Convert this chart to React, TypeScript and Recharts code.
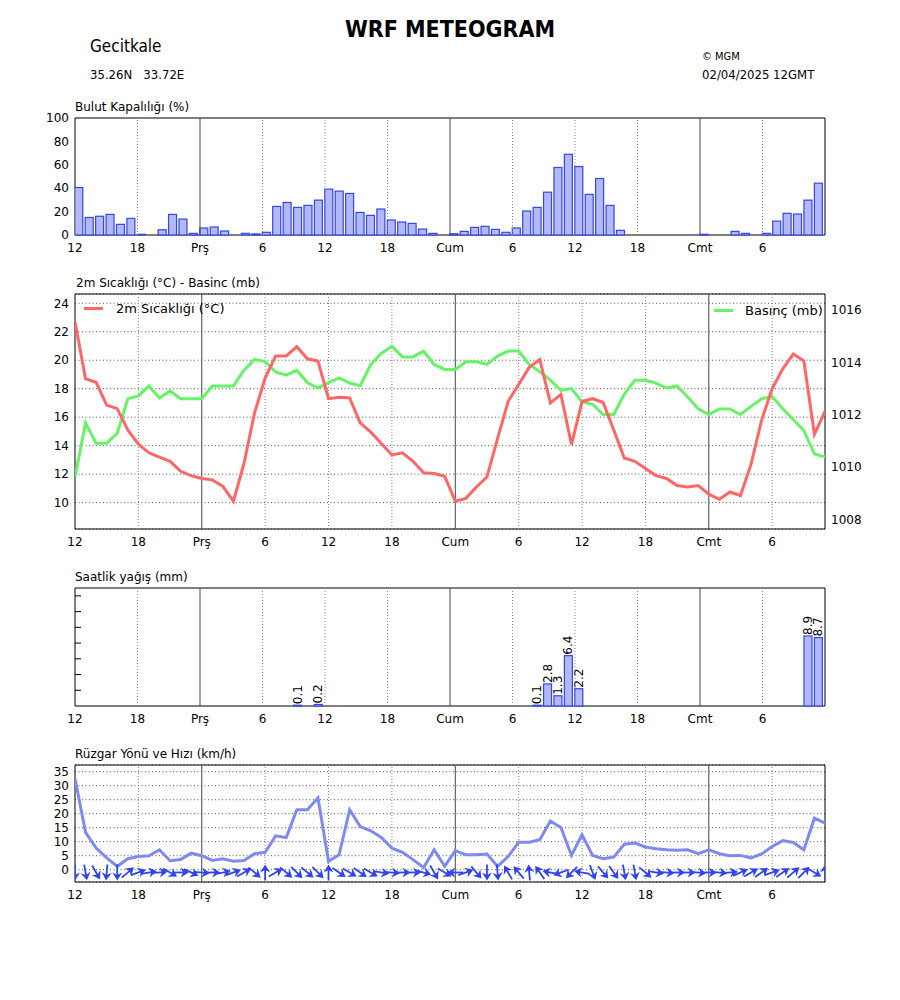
import React from "react";
import {
  ComposedChart,
  Bar,
  Line,
  Scatter,
  XAxis,
  YAxis,
  CartesianGrid,
  ReferenceLine,
  ReferenceArea,
} from "recharts";

const FONT = "'DejaVu Sans', sans-serif";
const FONT_COND = "'DejaVu Sans Condensed', 'DejaVu Sans', sans-serif";

// x axis: hours from 02/04 12GMT
const tickHours = [0, 6, 12, 18, 24, 30, 36, 42, 48, 54, 60, 66];
const tickLabels = ["12", "18", "Prş", "6", "12", "18", "Cum", "6", "12", "18", "Cmt", "6"];
const dayHours = [12, 36, 60];

// Bulut kapalılığı (%)
const cloud = [
  40.6, 15, 16, 17.6, 9.1, 14.2, 0.6, 0, 4.5, 17.6,
  13.6, 1.4, 6, 6.8, 3.4, 0, 1.4, 0.9, 2.3, 24.4,
  27.8, 23.6, 25.3, 29.8, 39.2, 37.5, 35.5, 19.3, 16.8, 22.2,
  12.8, 11.1, 9.9, 5.1, 1.4, 0, 1.1, 3.1, 6.5, 7.4,
  4.8, 2.3, 6, 20.5, 23.6, 36.6, 57.7, 69, 58.5, 34.7,
  48.3, 25.3, 4, 0, 0, 0, 0, 0, 0, 0,
  0.6, 0, 0, 3.1, 1.4, 0, 1.4, 11.9, 18.5, 17.9,
  29.8, 44.3,
];

// 2m sıcaklığı (°C)
const temp = [
  22.7, 18.7, 18.45, 16.85, 16.6, 15.1, 14.1, 13.5, 13.2, 12.9,
  12.2, 11.9, 11.7, 11.6, 11.15, 10.1, 12.75, 16.3, 18.75, 20.3,
  20.3, 20.95, 20.1, 19.95, 17.3, 17.4, 17.35, 15.6, 14.95, 14.15,
  13.35, 13.5, 12.9, 12.1, 12.05, 11.85, 10.1, 10.3, 11.1, 11.8,
  14.5, 17.1, 18.3, 19.5, 20.05, 17.0, 17.6, 14.08, 17.1, 17.3,
  17.03, 15.1, 13.14, 12.9, 12.4, 11.9, 11.7, 11.2, 11.1, 11.2,
  10.6, 10.24, 10.75, 10.5, 12.7, 15.8, 18.0, 19.4, 20.43, 19.96,
  14.8, 16.4,
];

// Basınç (mb)
const pressure = [
  1009.61, 1011.69, 1010.91, 1010.91, 1011.3, 1012.61, 1012.72, 1013.1, 1012.64, 1012.91,
  1012.61, 1012.61, 1012.61, 1013.1, 1013.1, 1013.1, 1013.7, 1014.11, 1014.03, 1013.64,
  1013.51, 1013.7, 1013.23, 1013.02, 1013.23, 1013.41, 1013.21, 1013.11, 1013.92, 1014.34,
  1014.62, 1014.21, 1014.21, 1014.43, 1013.92, 1013.73, 1013.73, 1014.02, 1014.02, 1013.92,
  1014.24, 1014.43, 1014.43, 1013.92, 1013.64, 1013.32, 1012.93, 1013.0, 1012.49, 1012.4,
  1012.01, 1012.01, 1012.78, 1013.32, 1013.32, 1013.21, 1013.02, 1013.1, 1012.68, 1012.23,
  1012.01, 1012.22, 1012.22, 1012.01, 1012.32, 1012.61, 1012.7, 1012.23, 1011.82, 1011.4,
  1010.5, 1010.4,
];

// Saatlik yağış (mm)
const rain = [
  0, 0, 0, 0, 0, 0, 0, 0, 0, 0,
  0, 0, 0, 0, 0, 0, 0, 0, 0, 0,
  0, 0.1, 0, 0.2, 0, 0, 0, 0, 0, 0,
  0, 0, 0, 0, 0, 0, 0, 0, 0, 0,
  0, 0, 0, 0, 0.1, 2.8, 1.3, 6.4, 2.2, 0,
  0, 0, 0, 0, 0, 0, 0, 0, 0, 0,
  0, 0, 0, 0, 0, 0, 0, 0, 0, 0,
  8.9, 8.7,
];

// Rüzgar hızı (km/h)
const windSpeed = [
  32.6, 13.3, 7.7, 4.2, 1.2, 3.9, 4.7, 5.0, 7.1, 3.2,
  3.6, 5.9, 5.0, 3.3, 3.9, 3.0, 3.3, 5.7, 6.2, 12.1,
  11.5, 21.4, 21.4, 25.7, 3.0, 5.3, 21.4, 15.4, 13.9, 11.5,
  7.7, 6.2, 3.6, 0.8, 7.1, 1.2, 6.8, 5.3, 5.3, 5.6,
  1.2, 4.7, 9.8, 9.8, 10.7, 17.4, 15.1, 5.1, 12.5, 5.1,
  3.9, 4.5, 9.1, 9.5, 8.1, 7.5, 7.1, 6.9, 7.1, 5.7,
  7.1, 5.7, 5.0, 5.1, 4.2, 5.6, 8.3, 10.4, 9.7, 7.1,
  18.4, 16.6,
];

// arrow direction, degrees counter-clockwise from east (where the wind blows to)
const windDir = [
  -90, -80, -60, -95, -90, 40, 20, 10, 5, -30,
  0, -25, -5, 0, 10, 20, 30, -40, 90, 30,
  -40, -45, -40, -45, 90, -35, -30, -35, -30, -10,
  -5, 0, 0, -15, -60, -30, 180, 20, -50, -90,
  -85, 120, 130, 95, 125, 170, 200, 225, 170, -70,
  -50, -55, -80, -80, -40, -10, -5, 0, 0, -5,
  0, -5, 5, 25, 30, 35, 20, 35, 40, 45,
  -30, 90,
];

const cloudData = cloud.map((v, i) => ({ h: i, v }));
const rainData = rain.map((v, i) => ({ h: i, v }));
const tpData = temp.map((t, i) => ({ h: i, t, p: pressure[i] }));
const windData = windSpeed.map((s, i) => ({ h: i, s }));
const arrowData = windDir.map((d, i) => ({ h: i, y: -1, d }));

const BAR_FILL = "#b3b9f6";
const BAR_EDGE = "#3445ea";
const tickStyle = { fontSize: 12, fill: "#000", fontFamily: FONT };
const TOP = 10; // room above each plot for the top tick label

const fmtHour = (v: number) => tickLabels[tickHours.indexOf(v)] ?? "";

// matplotlib style bars: left edge on the hour
const EdgeBar = (props: any) => {
  const { x, y, width, height } = props;
  if (!height || height <= 0) return null;
  return (
    <rect x={x + width / 2} y={y} width={width} height={height}
      fill={BAR_FILL} stroke={BAR_EDGE} strokeWidth={1.2} />
  );
};

const RainBar = (props: any) => {
  const { x, y, width, height } = props;
  const v = props.payload?.v ?? props.value;
  if (!v || v <= 0) return null;
  const cx = x + width;
  const ty = y - 1;
  return (
    <g>
      <rect x={x + width / 2} y={y} width={width} height={Math.max(height, 0.5)}
        fill={BAR_FILL} stroke={BAR_EDGE} strokeWidth={1.2} />
      <text x={cx} y={ty} transform={`rotate(-90 ${cx} ${ty})`} textAnchor="start"
        dominantBaseline="central" fontSize={12} fontFamily={FONT} fill="#000">
        {v.toFixed(1)}
      </text>
    </g>
  );
};

const Arrow = (props: any) => {
  const { cx, cy, payload } = props;
  if (cx == null || cy == null) return null;
  const L = 16;
  const c = "#2f43ee";
  return (
    <g transform={`translate(${cx},${cy}) rotate(${-payload.d})`}>
      <line x1={-L / 2} y1={0} x2={L / 2 - 4} y2={0} stroke={c} strokeWidth={1.8} />
      <path d={`M ${L / 2} 0 L ${L / 2 - 8} -5 L ${L / 2 - 5.5} 0 L ${L / 2 - 8} 5 Z`} fill={c} />
    </g>
  );
};

const vLines = (yId?: string) =>
  tickHours.filter((h) => h > 0).map((h) =>
    dayHours.includes(h) ? (
      <ReferenceLine key={h} x={h} yAxisId={yId} stroke="#444" strokeWidth={1} />
    ) : (
      <ReferenceLine key={h} x={h} yAxisId={yId} stroke="#888" strokeWidth={1} strokeDasharray="1 2" />
    )
  );

const xAxis = (max: number) => (
  <XAxis dataKey="h" type="number" domain={[0, max]} ticks={tickHours} interval={0}
    allowDataOverflow tickFormatter={fmtHour} tick={tickStyle} tickLine={false}
    axisLine={false} height={30} tickSize={4} tickMargin={4} />
);

const Title = ({ top, left = 75, children }: { top: number; left?: number; children: React.ReactNode }) => (
  <div style={{ position: "absolute", left, top: top - 7, fontSize: 12, lineHeight: "14px", fontFamily: FONT, whiteSpace: "pre" }}>
    {children}
  </div>
);

export default function App() {
  const tDom: [number, number] = [8.15, 24.65];
  const pDom: [number, number] = [1007.64, 1016.61];
  const wDom: [number, number] = [-4.4, 37.4];
  return (
    <div style={{ position: "absolute", left: 0, top: 0, width: 900, height: 1000, background: "#fff", fontFamily: FONT, color: "#000" }}>
      {/* header */}
      <div style={{ position: "absolute", left: 0, width: 900, top: 16, textAlign: "center", fontSize: 23, lineHeight: "26px", fontWeight: "bold", fontFamily: FONT_COND }}>
        WRF METEOGRAM
      </div>
      <div style={{ position: "absolute", left: 90, top: 36, fontSize: 17, lineHeight: "20px", fontFamily: FONT_COND }}>Gecitkale</div>
      <div style={{ position: "absolute", left: 90, top: 67, fontSize: 13, lineHeight: "15px", fontFamily: FONT_COND, whiteSpace: "pre" }}>35.26N   33.72E</div>
      <div style={{ position: "absolute", left: 702, top: 50, fontSize: 11, lineHeight: "14px", fontFamily: FONT_COND }}>© MGM</div>
      <div style={{ position: "absolute", left: 702, top: 67, fontSize: 13, lineHeight: "15px", fontFamily: FONT_COND }}>02/04/2025 12GMT</div>

      {/* panel 1: cloud cover */}
      <Title top={107}>Bulut Kapalılığı (%)</Title>
      <div style={{ position: "absolute", left: 0, top: 118 - TOP }}>
        <ComposedChart width={900} height={147 + TOP} data={cloudData} margin={{ top: TOP, right: 75, bottom: 0, left: 0 }}>
          {xAxis(72)}
          <YAxis type="number" domain={[0, 100]} ticks={[0, 20, 40, 60, 80, 100]} interval={0} width={75}
            tick={tickStyle} tickLine={false} axisLine={false} tickSize={6} tickMargin={0} />
          {vLines()}
          <Bar dataKey="v" barSize={8} shape={EdgeBar} isAnimationActive={false} />
          <ReferenceArea x1={0} x2={72} y1={0} y2={100} fill="none" stroke="#000" strokeWidth={1} ifOverflow="visible" />
        </ComposedChart>
      </div>

      {/* panel 2: temperature / pressure */}
      <Title top={283} left={76}>2m Sıcaklığı (°C) - Basinc (mb)</Title>
      <div style={{ position: "absolute", left: 0, top: 294 - TOP }}>
        <ComposedChart width={900} height={265 + TOP} data={tpData} margin={{ top: TOP, right: 0, bottom: 0, left: 0 }}>
          {xAxis(71)}
          <YAxis yAxisId="t" type="number" domain={tDom} allowDataOverflow ticks={[10, 12, 14, 16, 18, 20, 22, 24]}
            interval={0} width={75} tick={tickStyle} tickLine={false} axisLine={false} tickSize={6} tickMargin={0} />
          <YAxis yAxisId="p" orientation="right" type="number" domain={pDom} allowDataOverflow
            ticks={[1008, 1010, 1012, 1014, 1016]} interval={0} width={75} tick={tickStyle} tickLine={false}
            axisLine={false} tickSize={6} tickMargin={0} />
          <CartesianGrid yAxisId="t" vertical={false} stroke="#555" strokeDasharray="1 2.5" />
          {vLines("t")}
          <Line yAxisId="p" dataKey="p" stroke="#66f466" strokeWidth={3} dot={false} isAnimationActive={false} />
          <Line yAxisId="t" dataKey="t" stroke="#ff6666" strokeWidth={3} dot={false} isAnimationActive={false} />
          <ReferenceArea yAxisId="t" x1={0} x2={71} y1={tDom[0]} y2={tDom[1]} fill="none" stroke="#000" strokeWidth={1} ifOverflow="visible" />
        </ComposedChart>
      </div>
      {/* legends */}
      <div style={{ position: "absolute", left: 84, top: 307, width: 19, height: 3, background: "#ff6666" }} />
      <div style={{ position: "absolute", left: 116, top: 301, fontSize: 13, lineHeight: "15px", fontFamily: FONT }}>2m Sıcaklığı (°C)</div>
      <div style={{ position: "absolute", left: 714, top: 309, width: 19, height: 3, background: "#66f466" }} />
      <div style={{ position: "absolute", left: 745, top: 303, fontSize: 13, lineHeight: "15px", fontFamily: FONT }}>Basınç (mb)</div>

      {/* panel 3: rain */}
      <Title top={577}>Saatlik yağış (mm)</Title>
      <div style={{ position: "absolute", left: 0, top: 588 - TOP }}>
        <ComposedChart width={900} height={148 + TOP} data={rainData} margin={{ top: TOP, right: 75, bottom: 0, left: 75 }}>
          {xAxis(72)}
          <YAxis type="number" domain={[0, 15]} ticks={[2, 4, 6, 8, 10, 12, 14]} interval={0} mirror
            tick={() => <g />} tickLine={{ stroke: "#000" }} axisLine={false} tickSize={6} />
          {vLines()}
          <Bar dataKey="v" barSize={8} shape={RainBar} isAnimationActive={false} />
          <ReferenceArea x1={0} x2={72} y1={0} y2={15} fill="none" stroke="#000" strokeWidth={1} ifOverflow="visible" />
        </ComposedChart>
      </div>

      {/* panel 4: wind */}
      <Title top={754}>Rüzgar Yönü ve Hızı (km/h)</Title>
      <div style={{ position: "absolute", left: 0, top: 765 - TOP }}>
        <ComposedChart width={900} height={147 + TOP} data={windData} margin={{ top: TOP, right: 75, bottom: 0, left: 0 }}>
          {xAxis(71)}
          <YAxis type="number" domain={wDom} allowDataOverflow ticks={[0, 5, 10, 15, 20, 25, 30, 35]} interval={0}
            width={75} tick={tickStyle} tickLine={false} axisLine={false} tickSize={6} tickMargin={0} />
          <CartesianGrid vertical={false} stroke="#555" strokeDasharray="1 2.5" />
          {vLines()}
          <Line dataKey="s" stroke="#7d8af2" strokeWidth={3} dot={false} isAnimationActive={false} />
          <Scatter data={arrowData} dataKey="y" shape={Arrow} isAnimationActive={false} />
          <ReferenceArea x1={0} x2={71} y1={wDom[0]} y2={wDom[1]} fill="none" stroke="#000" strokeWidth={1} ifOverflow="visible" />
        </ComposedChart>
      </div>
    </div>
  );
}
